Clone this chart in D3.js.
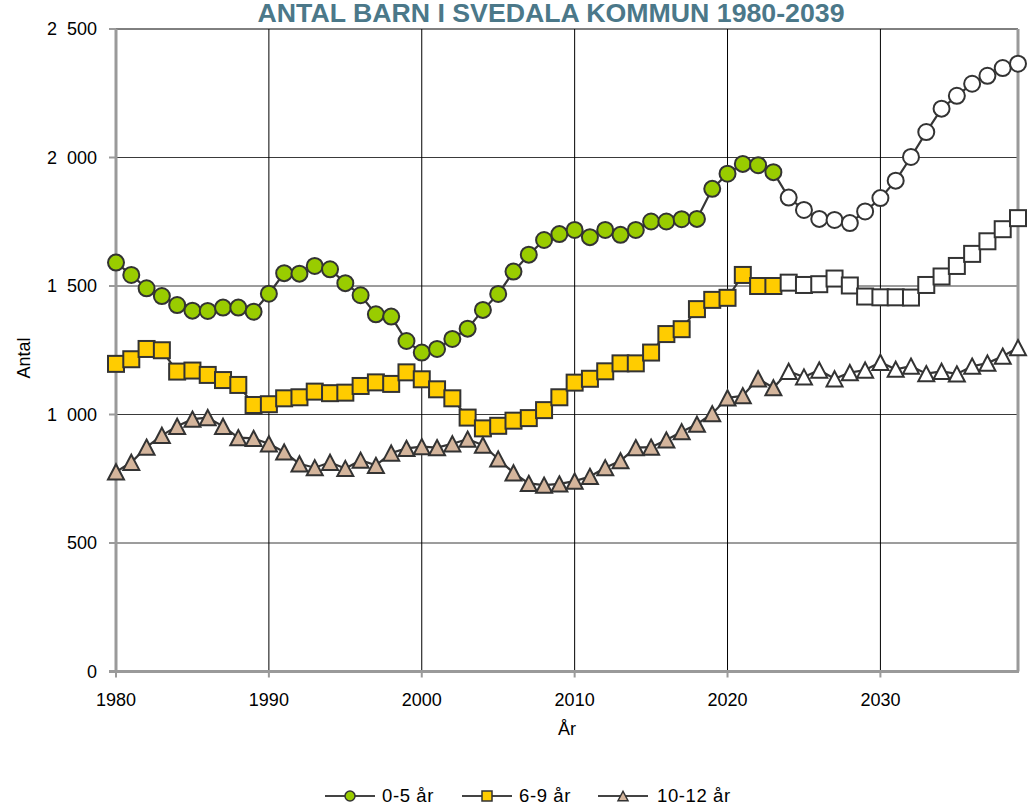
<!DOCTYPE html>
<html>
<head>
<meta charset="utf-8">
<script src="https://cdn.jsdelivr.net/npm/d3@7"></script>
<style>
  body { margin: 0; background: #fff; }
  text { font-family: "Liberation Sans", Arial, sans-serif; }
</style>
</head>
<body>
<div id="chart"></div>
<script>
const width = 1028;
const height = 811;

// data
const years = d3.range(1980, 2040);
const firstForecast = 2024;

const age0to5 = [1591,1543,1491,1461,1426,1404,1403,1416,1416,1400,
                 1470,1550,1548,1578,1565,1511,1464,1390,1381,1286,
                 1241,1255,1294,1334,1407,1469,1556,1622,1679,1702,
                 1718,1690,1718,1699,1718,1751,1751,1760,1761,1878,
                 1937,1975,1970,1943,1844,1796,1761,1757,1745,1790,
                 1842,1910,2002,2099,2190,2240,2287,2318,2348,2365];

const age6to9 = [1197,1215,1255,1250,1167,1171,1154,1134,1115,1037,
                 1040,1063,1067,1089,1083,1085,1111,1125,1119,1164,
                 1137,1098,1063,988,946,956,976,986,1017,1067,
                 1124,1139,1168,1199,1199,1241,1313,1332,1410,1446,
                 1454,1543,1500,1500,1513,1504,1507,1529,1502,1459,
                 1456,1456,1455,1504,1537,1578,1625,1674,1721,1764];

const age10to12 = [777,814,873,919,954,982,988,954,910,907,
                   886,854,808,793,814,790,822,802,850,868,
                   875,871,886,904,881,827,773,732,725,730,
                   741,759,793,820,871,873,901,933,962,1003,
                   1065,1073,1139,1104,1168,1146,1173,1139,1163,1173,
                   1203,1176,1188,1159,1168,1158,1188,1200,1227,1260];

const seriesNames = ["0-5 år", "6-9 år", "10-12 år"];
const seriesColors = ["#99cc00", "#ffcc00", "#d4b59c"];
const seriesShapes = ["circle", "square", "triangle"];
const seriesValues = [age0to5, age6to9, age10to12];

const yTicks = [0, 500, 1000, 1500, 2000, 2500];
const xTicks = [1980, 1990, 2000, 2010, 2020, 2030];

const plotLeft = 116, plotRight = 1018, plotTop = 29, plotBottom = 671.5;

let x = d3.scaleLinear().domain([1980, 2039]).range([plotLeft, plotRight]);
let y = d3.scaleLinear().domain([0, 2500]).range([plotBottom, plotTop]);

const svg = d3.select("#chart").append("svg")
    .attr("width", width)
    .attr("height", height);

// title
svg.append("text")
    .attr("x", 551)
    .attr("y", 22)
    .attr("text-anchor", "middle")
    .attr("fill", "#4b7889")
    .style("font-size", "25px")
    .style("font-weight", "bold")
    .attr("textLength", 587)
    .attr("lengthAdjust", "spacingAndGlyphs")
    .text("ANTAL BARN I SVEDALA KOMMUN 1980-2039");

// grid
svg.append("g")
    .selectAll("line")
    .data(yTicks.filter(d => d > 0 && d < 2500))
    .join("line")
    .attr("x1", plotLeft).attr("x2", plotRight)
    .attr("y1", d => y(d)).attr("y2", d => y(d))
    .attr("stroke", "#3a3a3a")
    .attr("stroke-width", 1);

svg.append("line")
    .attr("x1", plotLeft).attr("x2", plotRight)
    .attr("y1", y(2500)).attr("y2", y(2500))
    .attr("stroke", "#000")
    .attr("stroke-width", 1);

svg.append("g")
    .selectAll("line")
    .data(xTicks.filter(d => d > 1980))
    .join("line")
    .attr("x1", d => x(d)).attr("x2", d => x(d))
    .attr("y1", plotTop).attr("y2", plotBottom)
    .attr("stroke", "#000")
    .attr("stroke-width", 1);

// right border
svg.append("line")
    .attr("x1", plotRight).attr("x2", plotRight)
    .attr("y1", plotTop).attr("y2", plotBottom)
    .attr("stroke", "#9a9a9a")
    .attr("stroke-width", 3);

// y axis
const yAxis = svg.append("g");
yAxis.append("line")
    .attr("x1", plotLeft).attr("x2", plotLeft)
    .attr("y1", plotTop).attr("y2", plotBottom)
    .attr("stroke", "#9a9a9a")
    .attr("stroke-width", 3);
yAxis.selectAll(".tk")
    .data(yTicks)
    .join("line")
    .attr("class", "tk")
    .attr("x1", plotLeft - 7).attr("x2", plotLeft)
    .attr("y1", d => y(d)).attr("y2", d => y(d))
    .attr("stroke", "#9a9a9a")
    .attr("stroke-width", 2);
yAxis.selectAll("text")
    .data(yTicks)
    .join("text")
    .attr("x", 97)
    .attr("y", d => y(d))
    .attr("dy", "0.35em")
    .attr("text-anchor", "end")
    .style("font-size", "18px")
    .attr("fill", "#000")
    .text(d => d3.format(",")(d).replace(",", "\u2007"));

// x axis
const xAxis = svg.append("g");
xAxis.append("line")
    .attr("x1", plotLeft - 7).attr("x2", plotRight + 1)
    .attr("y1", plotBottom).attr("y2", plotBottom)
    .attr("stroke", "#9a9a9a")
    .attr("stroke-width", 3);
xAxis.selectAll(".tk")
    .data(xTicks)
    .join("line")
    .attr("class", "tk")
    .attr("x1", d => x(d)).attr("x2", d => x(d))
    .attr("y1", plotBottom).attr("y2", plotBottom + 6)
    .attr("stroke", "#9a9a9a")
    .attr("stroke-width", 2);
xAxis.selectAll("text")
    .data(xTicks)
    .join("text")
    .attr("x", d => x(d))
    .attr("y", 700)
    .attr("dy", "0.35em")
    .attr("text-anchor", "middle")
    .style("font-size", "18px")
    .text(d => d);

svg.append("text")
    .attr("x", 567)
    .attr("y", 729)
    .attr("dy", "0.35em")
    .attr("text-anchor", "middle")
    .style("font-size", "18px")
    .text("År");

svg.append("text")
    .attr("transform", "translate(24,358) rotate(-90)")
    .attr("dy", "0.35em")
    .attr("text-anchor", "middle")
    .style("font-size", "18px")
    .text("Antal");

// markers
function drawMarker(g, shape, size) {
    if (shape === "circle") {
        g.append("circle").attr("r", size / 2);
    } else if (shape === "square") {
        g.append("rect")
            .attr("x", -size / 2).attr("y", -size / 2)
            .attr("width", size).attr("height", size);
    } else {
        const h = size * 0.95;
        g.append("path")
            .attr("d", `M0,${-h / 2}L${size / 2},${h / 2}L${-size / 2},${h / 2}Z`);
    }
}

const line = d3.line().x(d => x(d.year)).y(d => y(d.value));

seriesValues.forEach((vals, i) => {
    const pts = years.map((yr, j) => ({ year: yr, value: vals[j] }));
    const g = svg.append("g");
    g.append("path")
        .datum(pts)
        .attr("d", line)
        .attr("fill", "none")
        .attr("stroke", "#363636")
        .attr("stroke-width", 2.2);
    g.selectAll("g")
        .data(pts)
        .join("g")
        .attr("transform", d => `translate(${x(d.year)},${y(d.value)})`)
        .attr("fill", d => d.year >= firstForecast ? "#fff" : seriesColors[i])
        .attr("stroke", "#333")
        .attr("stroke-width", 2)
        .each(function() { drawMarker(d3.select(this), seriesShapes[i], 16); });
});

// legend
const legendItems = [
    { x: 325, textX: 382 },
    { x: 462, textX: 519 },
    { x: 598, textX: 657 }
];
const legend = svg.append("g");
seriesNames.forEach((name, i) => {
    const lx = legendItems[i].x;
    const lg = legend.append("g");
    lg.append("line")
        .attr("x1", lx).attr("x2", lx + 50)
        .attr("y1", 796).attr("y2", 796)
        .attr("stroke", "#444")
        .attr("stroke-width", 2.2);
    const m = lg.append("g")
        .attr("transform", `translate(${lx + 25},796)`)
        .attr("fill", seriesColors[i])
        .attr("stroke", "#333")
        .attr("stroke-width", 1.5);
    drawMarker(m, seriesShapes[i], 10);
    lg.append("text")
        .attr("x", legendItems[i].textX)
        .attr("y", 796)
        .attr("dy", "0.35em")
        .style("font-size", "18.5px")
        .style("letter-spacing", "0.6px")
        .text(name);
});
</script>
</body>
</html>
